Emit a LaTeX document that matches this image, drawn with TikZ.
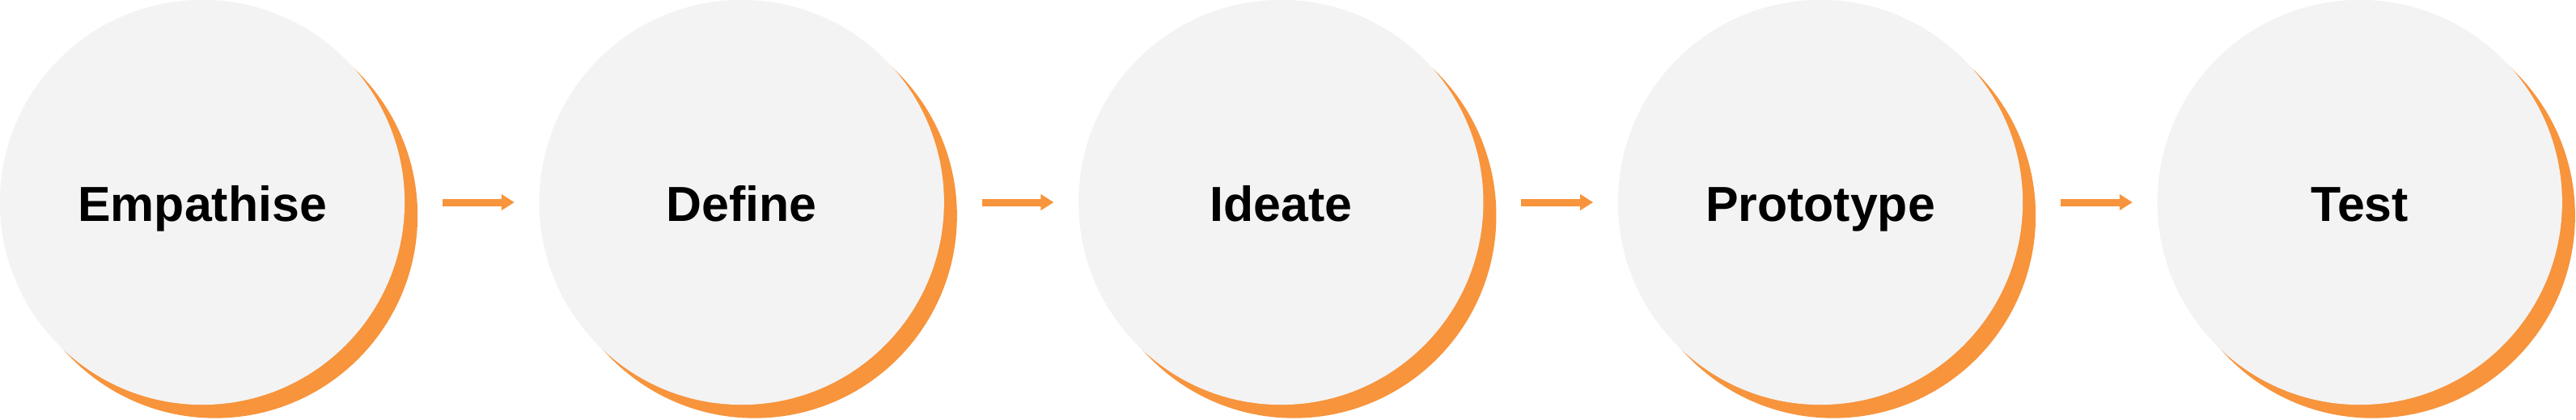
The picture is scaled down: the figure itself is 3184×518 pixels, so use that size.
\documentclass[tikz,border=0pt]{standalone}
\usepackage{fontspec}
\setmainfont{Liberation Sans}
\usepackage{tikz}
\usetikzlibrary{arrows.meta,shadows}
\definecolor{stagegray}{HTML}{F3F3F3}
\definecolor{accent}{HTML}{F7943C}

\begin{document}
\begin{tikzpicture}[x=0.01cm, y=-0.01cm]
\tikzstyle{every node} = [circle, fill=stagegray, minimum size=5cm, inner sep=0cm,
	general shadow={fill=accent, shadow xshift=0.16cm, shadow yshift=-0.165cm},
	font=\fontsize{17.3}{20}\selectfont\bfseries, text height=0.46cm, text depth=0cm]
\tikzstyle{flow} = [draw=accent, line width=0.09cm, shorten <=0.46cm, shorten >=0.30cm,
	-{Triangle[length=0.16cm, width=0.19cm]}]
\useasboundingbox (0,0) rectangle (3184,518);
\node (emp) at (250,250) {Empathise};
\node (def) at (916.7,250) {Define};
\node (ide) at (1583.3,250) {Ideate};
\node (pro) at (2250,250) {Prototype};
\node (tst) at (2916.7,250) {Test};
\draw[flow] (emp) -- (def);
\draw[flow] (def) -- (ide);
\draw[flow] (ide) -- (pro);
\draw[flow] (pro) -- (tst);
\end{tikzpicture}
\end{document}
